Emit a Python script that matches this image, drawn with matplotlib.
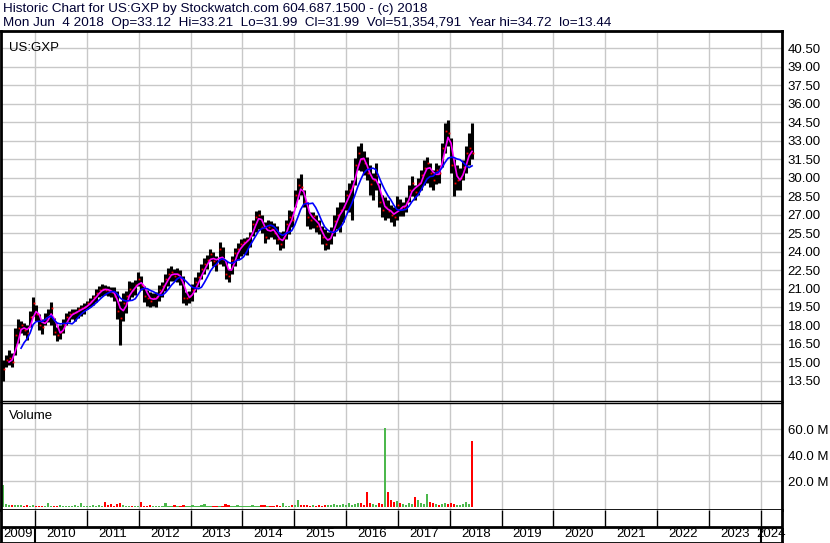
import numpy as np
import pandas as pd
import matplotlib
matplotlib.use('Agg')
import matplotlib.pyplot as plt

plt.rcParams['font.family'] = ['Liberation Sans', 'DejaVu Sans']

# price samples (about every 3 weeks)
low = [13.5, 14.6, 14.8, 14.6, 15.6, 16.6, 17.4, 17.2, 16.8, 17.9,
       18.8, 18.4, 17.6, 17.3, 18.0, 18.3, 18.0, 17.2, 16.7, 16.9,
       17.4, 18.0, 18.3, 18.5, 18.4, 18.6, 18.8, 18.9, 19.3, 19.5,
       19.7, 19.9, 20.3, 20.4, 20.5, 20.4, 20.3, 20.0, 18.5, 16.4,
       18.4, 19.0, 20.1, 20.3, 20.5, 21.2, 20.9, 19.9, 19.6, 19.5,
       19.6, 19.5, 20.0, 20.3, 20.8, 21.2, 21.6, 21.6, 21.5, 21.3,
       19.8, 19.7, 19.8, 20.0, 20.7, 21.1, 21.8, 22.2, 22.6, 23.2,
       22.8, 22.4, 23.0, 22.8, 21.8, 21.5, 22.2, 22.8, 23.3, 23.6,
       23.8, 23.7, 24.4, 25.3, 25.6, 25.8, 25.5, 24.7, 25.0, 25.2,
       25.0, 24.6, 24.1, 24.3, 25.0, 25.4, 26.0, 27.6, 28.3, 28.6,
       27.6, 26.1, 25.8, 25.9, 25.6, 25.4, 24.6, 24.1, 24.2, 24.6,
       25.3, 25.8, 25.6, 26.4, 27.4, 27.2, 26.6, 29.4, 30.6, 30.5,
       30.2, 29.8, 28.6, 28.2, 29.0, 27.6, 26.8, 26.6, 26.7, 26.4,
       26.1, 26.6, 26.9, 26.9, 27.2, 28.0, 28.5, 28.2, 28.6, 29.0,
       29.4, 29.6, 29.2, 29.0, 29.5, 29.6, 30.9, 32.0, 32.6, 30.4,
       28.5, 29.0, 29.0, 29.8, 30.4, 31.0, 31.5]
high = [15.2, 15.6, 16.0, 15.8, 17.8, 18.5, 18.4, 18.2, 18.0, 19.2,
        20.3, 19.7, 18.9, 18.5, 19.0, 19.3, 19.9, 18.6, 17.9, 18.0,
        18.5, 19.0, 19.2, 19.3, 19.3, 19.5, 19.7, 19.8, 20.0, 20.2,
        20.5, 21.0, 21.2, 21.4, 21.3, 21.2, 21.1, 21.1, 20.8, 20.0,
        20.6, 20.8, 21.6, 21.5, 21.7, 22.3, 22.0, 21.2, 20.9, 20.7,
        20.6, 20.7, 21.3, 21.5, 22.2, 22.7, 22.8, 22.6, 22.7, 22.5,
        22.0, 20.7, 20.8, 21.4, 21.9, 22.3, 23.0, 23.5, 23.7, 24.2,
        24.0, 23.6, 24.8, 24.4, 23.2, 22.6, 23.6, 24.3, 24.7, 25.0,
        25.1, 25.2, 25.6, 26.6, 27.3, 27.4, 27.0, 26.4, 26.6, 26.5,
        26.3, 26.1, 25.6, 25.7, 26.6, 27.4, 27.3, 29.0, 30.0, 30.3,
        29.0, 28.0, 27.2, 27.2, 27.0, 26.6, 26.1, 25.8, 25.6, 26.0,
        27.0, 27.6, 28.0, 28.0, 29.0, 29.6, 29.8, 31.6, 32.6, 32.8,
        32.2, 31.7, 31.0, 30.4, 31.2, 29.6, 28.6, 28.4, 28.2, 27.8,
        27.6, 28.5, 28.3, 28.0, 28.4, 29.4, 30.1, 29.4, 30.0, 30.6,
        31.4, 31.7, 31.2, 30.6, 31.2, 31.0, 32.8, 34.4, 34.7, 33.2,
        31.5, 31.0, 30.8, 31.4, 32.6, 33.6, 34.4]
close = [14.5, 15.2, 15.4, 15.0, 17.2, 17.8, 18.0, 17.6, 17.4, 18.7,
         19.8, 18.9, 18.0, 17.9, 18.6, 18.8, 19.4, 17.5, 17.2, 17.5,
         18.1, 18.7, 18.9, 19.0, 19.1, 19.3, 19.4, 19.5, 19.8, 20.0,
         20.3, 20.6, 20.9, 21.0, 20.9, 20.8, 20.7, 20.4, 19.2, 18.6,
         19.8, 20.4, 21.0, 20.9, 21.3, 21.8, 21.3, 20.4, 20.2, 20.0,
         20.2, 20.3, 20.9, 21.2, 21.8, 22.2, 22.3, 22.0, 22.2, 21.8,
         20.2, 20.2, 20.4, 20.9, 21.5, 21.9, 22.6, 23.0, 23.3, 23.8,
         23.2, 23.0, 24.2, 23.4, 22.2, 22.0, 23.3, 23.9, 24.2, 24.6,
         24.8, 24.9, 25.3, 26.2, 26.8, 27.0, 26.0, 25.2, 26.0, 25.8,
         25.5, 25.0, 24.6, 25.1, 26.2, 26.8, 26.6, 28.6, 29.4, 29.2,
         28.0, 26.8, 26.6, 26.9, 26.1, 25.8, 25.2, 24.6, 25.0, 25.6,
         26.5, 27.0, 27.4, 27.6, 28.6, 29.0, 29.3, 31.0, 32.0, 31.5,
         31.2, 30.4, 29.5, 29.8, 30.2, 28.0, 27.4, 27.6, 27.3, 27.0,
         26.8, 27.8, 27.5, 27.6, 28.0, 29.0, 29.6, 28.8, 29.6, 30.2,
         30.8, 31.2, 30.4, 29.8, 30.6, 30.4, 32.4, 33.8, 33.6, 31.0,
         29.6, 29.8, 30.0, 30.9, 32.0, 32.4, 31.99]
# volume in millions
volume = [17.0, 2.5, 1.8, 2.2, 1.5, 2.0, 1.6, 1.4, 2.0, 1.2, 1.6,
          1.3, 1.1, 1.0, 1.4, 3.2, 1.2, 1.0, 1.3, 1.8, 1.1,
          0.9, 1.2, 1.0, 1.5, 1.1, 3.4, 1.2, 1.0, 1.4, 1.6,
          1.1, 2.2, 1.3, 4.0, 1.5, 2.8, 1.2, 2.5, 3.0, 1.8,
          1.2, 1.0, 1.4, 1.1, 1.3, 4.1, 1.0, 1.2, 1.5, 1.1,
          1.0, 1.3, 1.2, 3.0, 1.4, 1.1, 1.6, 1.0, 1.3, 2.2,
          1.2, 1.0, 1.5, 1.3, 1.1, 1.8, 2.6, 1.2, 1.0, 1.4,
          1.1, 1.3, 1.0, 2.4, 1.6, 1.2, 1.1, 1.5, 1.3, 1.0,
          1.4, 1.2, 1.8, 1.1, 1.3, 1.6, 2.0, 1.2, 1.0, 1.3,
          1.5, 1.1, 3.6, 1.4, 1.2, 2.0, 1.6, 5.8, 2.2, 1.5,
          1.8, 1.3, 2.0, 1.4, 1.6, 1.3, 2.2, 1.7, 1.5, 2.4,
          1.6, 2.0, 2.6, 1.8, 3.0, 2.2, 2.4, 3.5, 3.0, 2.2,
          11.8, 3.0, 2.6, 2.2, 3.5, 2.8, 61.0, 11.5, 6.0, 4.5,
          5.0, 3.0, 2.5, 2.2, 3.0, 2.5, 7.9, 5.5, 3.5, 2.8,
          10.2, 4.0, 3.2, 2.5, 2.0, 2.4, 3.0, 2.6, 3.5, 2.8,
          2.2, 2.0, 2.6, 4.0, 2.4, 51.35]
years = list(range(2009, 2025))

header1 = 'Historic Chart for US:GXP by Stockwatch.com 604.687.1500 - (c) 2018'
header2 = ('Mon Jun  4 2018  Op=33.12  Hi=33.21  Lo=31.99  Cl=31.99  '
           'Vol=51,354,791  Year hi=34.72  lo=13.44')

t = np.linspace(2009.38, 2018.43, len(close))
dt = t[1] - t[0]
cl = pd.Series(close)
ma_short = cl.rolling(3).mean()
ma_long = cl.rolling(7).mean()
up = cl.diff().fillna(1) >= 0
vcol = np.where(up, '#4cb84c', '#ff0000')

W, H = 830, 543
fig = plt.figure(figsize=(W / 100, H / 100), dpi=100)
x0, x1 = 1, 782
xl = (2009.341, 2024.41)
grid_c = '#c8c8c8'

def box(top, bottom):
    return [x0 / W, (H - bottom) / H, (x1 - x0) / W, (bottom - top) / H]

ax = fig.add_axes(box(31, 401))
ax2 = fig.add_axes(box(403, 510))
ax3 = fig.add_axes(box(510, 543))

# price panel
ax.vlines(t, low, high, color='black', lw=2.2)
ax.plot(t + dt * 0.3, close, 's', color='red', ms=1.3, mew=0)
ax.plot(t, ma_short, color='#ff00ff', lw=1.2)
ax.plot(t, ma_long, color='#0000ff', lw=1.2)
ax.set_xlim(xl)
ax.set_ylim(11.87, 41.9)
ax.set_yticks(np.arange(13.5, 40.6, 1.5))
ax.yaxis.set_major_formatter(matplotlib.ticker.FormatStrFormatter('%.2f'))
ax.text(0.01, 0.97, 'US:GXP', transform=ax.transAxes, fontsize=9.5, va='top')

# volume panel
ax2.bar(t, volume, width=dt * 0.75, color=vcol, lw=0)
ax2.set_xlim(xl)
ax2.set_ylim(-2.0, 80.3)
ax2.set_yticks([20, 40, 60])
ax2.set_yticklabels(['20.0 M', '40.0 M', '60.0 M'])
ax2.text(0.01, 0.93, 'Volume', transform=ax2.transAxes, fontsize=9.5, va='top')

for a in (ax, ax2):
    a.set_xticks(years[1:])
    a.set_xticklabels([])
    a.grid(True, color=grid_c, lw=1)
    a.set_axisbelow(True)
    a.yaxis.tick_right()
    a.tick_params(length=0, labelsize=9.5, pad=4)
    for s in a.spines.values():
        s.set_color('black')

ax.spines['top'].set_linewidth(2)
ax.spines['bottom'].set_linewidth(1)
ax2.spines['top'].set_linewidth(1)
ax2.spines['bottom'].set_linewidth(2)
for a in (ax, ax2, ax3):
    a.spines['left'].set_linewidth(2)
    a.spines['right'].set_linewidth(2)

# year strip
ax3.set_xlim(xl)
ax3.set_ylim(0, 1)
ax3.set_xticks([])
ax3.set_yticks([])
ax3.spines['top'].set_visible(False)
ax3.spines['bottom'].set_linewidth(2)
ax3.axhline(16 / 33, color='black', lw=2)
ax3.vlines(years[1:], 16 / 33, 1, color='black', lw=1)
ax3.vlines([2010, 2024], 0, 16 / 33, color='black', lw=1.5)
for y in years:
    lo_, hi_ = max(y, xl[0]), min(y + 1, xl[1])
    ax3.text((lo_ + hi_) / 2, 0.26, str(y), ha='center', va='center', fontsize=9.5)

fig.text(3 / W, 1 - 9 / H, header1, fontsize=9.7, va='center', color='#000033')
fig.text(3 / W, 1 - 23 / H, header2, fontsize=9.7, va='center', color='#000033')

fig.savefig('out.png', dpi=100)
